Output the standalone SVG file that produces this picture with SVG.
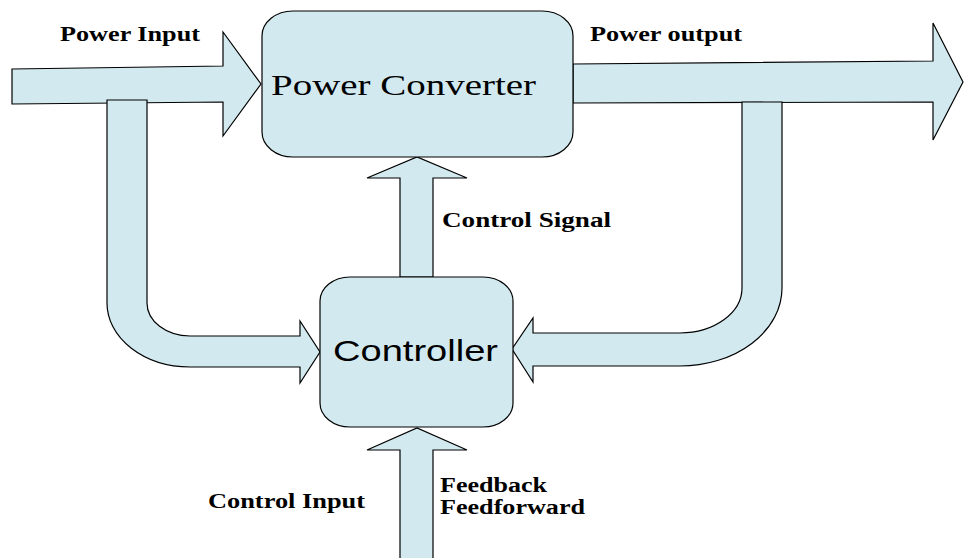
<svg xmlns="http://www.w3.org/2000/svg" width="965" height="558" viewBox="0 0 965 558">
<style>
.shape{fill:#d2e9ef;stroke:#000;stroke-width:1.2;stroke-linejoin:miter}
.lbl{font-family:"Liberation Serif","Times New Roman",serif;font-weight:bold;font-size:20px;fill:#000}
.big{font-family:"Liberation Serif","Times New Roman",serif;font-size:29px;fill:#000}
.sans{font-family:"Liberation Sans",Arial,sans-serif;font-size:29px;fill:#000}
</style>
<rect width="965" height="558" fill="#fff"/>
<g id="connectors">
  <path id="power-input" class="shape" d="M12,69 L223,66 L223,32 L261,84 L223,136 L223,102 L12,104 Z"/>
  <path id="power-output" class="shape" d="M573,64 L933,61 L933,23 L963,82 L933,140 L933,102 L573,103 Z"/>
  <path id="feedforward-branch" class="shape" d="M107,100 L147,100 L147,303 A43 33 0 0 0 190,336 L300,336 L300,321 L320,352 L300,383 L300,367 L190,367 A83 64 0 0 1 107,303 Z"/>
  <path id="feedback-branch" class="shape" d="M742,102 L782,102 L782,288 A102 78 0 0 1 680,366 L533,366 L533,382 L512,349 L533,318 L533,333 L680,333 A62 45 0 0 0 742,288 Z"/>
  <path id="control-signal" class="shape" d="M400,277 L400,178 L367,178 L417,157 L467,178 L433,178 L433,277 Z"/>
  <path id="control-input" class="shape" d="M400,560 L400,450 L367,450 L417,428 L467,450 L433,450 L433,560 Z"/>
</g>
<g id="power-converter">
  <rect class="shape" x="262" y="11" width="311" height="146" rx="31" ry="25"/>
  <text class="big" x="271" y="95" textLength="265" lengthAdjust="spacingAndGlyphs">Power Converter</text>
</g>
<g id="controller">
  <rect class="shape" x="320" y="277" width="193" height="150" rx="30" ry="24"/>
  <text class="sans" x="333" y="361" textLength="165" lengthAdjust="spacingAndGlyphs">Controller</text>
</g>
<g id="labels">
  <text class="lbl" x="60" y="41" textLength="140" lengthAdjust="spacingAndGlyphs">Power Input</text>
  <text class="lbl" x="590" y="41" textLength="152" lengthAdjust="spacingAndGlyphs">Power output</text>
  <text class="lbl" x="442" y="227" textLength="169" lengthAdjust="spacingAndGlyphs">Control Signal</text>
  <text class="lbl" x="208" y="508" textLength="157" lengthAdjust="spacingAndGlyphs">Control Input</text>
  <text class="lbl" x="440" y="492" textLength="107" lengthAdjust="spacingAndGlyphs">Feedback</text>
  <text class="lbl" x="440" y="514" textLength="145" lengthAdjust="spacingAndGlyphs">Feedforward</text>
</g>
</svg>
